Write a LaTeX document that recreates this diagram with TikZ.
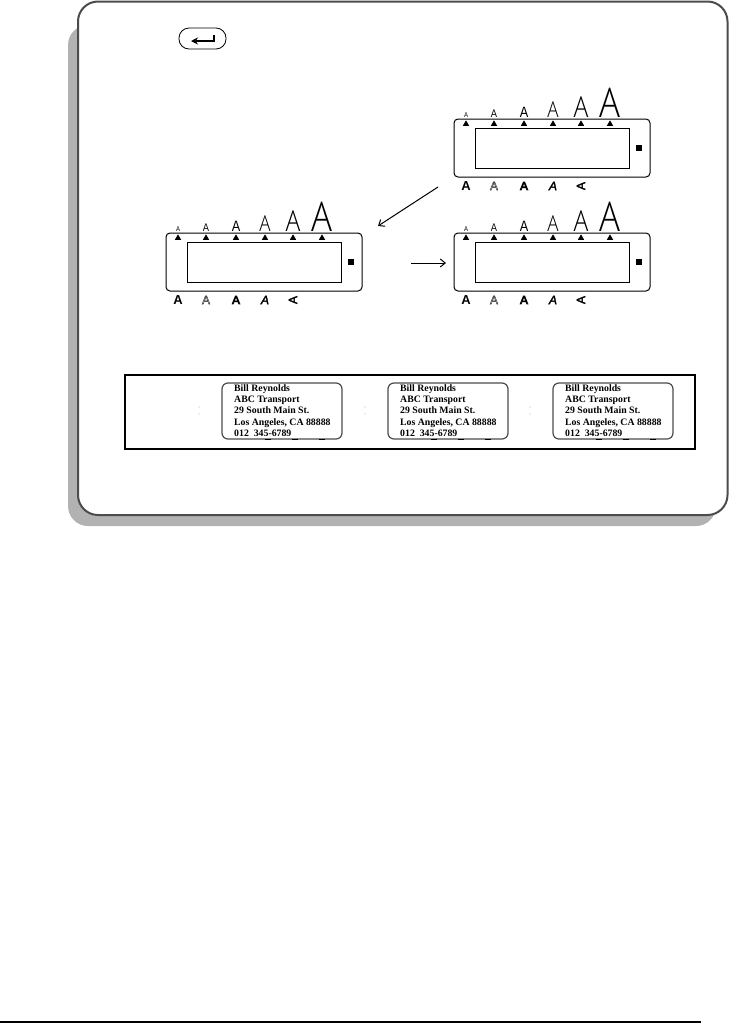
\documentclass[tikz,border=0pt]{standalone}
\usepackage{fontspec}
\setmainfont{Liberation Sans}
\newfontfamily\labelfont{Liberation Serif}
\newfontfamily\sizefont{Open Sans Light}
\usetikzlibrary{arrows.meta,shapes}
\definecolor{panelgray}{gray}{0.70}
\definecolor{edgegray}{gray}{0.30}
\newcommand{\outlineA}{\special{pdf:code q 1 Tr 0.35 w}A\special{pdf:code Q}}
\newcommand{\shadowA}{\special{pdf:code q 1 Tr 0.7 w}A\special{pdf:code Q}}
\newcommand{\heavyA}{\special{pdf:code q 2 Tr 0.3 w}A\special{pdf:code Q}}
\tikzset{
  sizeA/.style={inner sep=0pt,anchor=base,xscale=0.85,transform shape},
  styleA/.style={inner sep=0pt,font=\fontsize{12}{12}\selectfont},
  lcd/.style={draw,line width=1pt,rounded corners=4pt},
  labeltxt/.style={inner sep=0pt,anchor=base west,font=\labelfont\bfseries\fontsize{9.8}{10}\selectfont},
}
\begin{document}
\begin{tikzpicture}[x=1pt,y=-1pt,=>Stealth]
\useasboundingbox (0,0) rectangle (729,1023);
% panel
\fill[panelgray,rounded corners=20pt](68,25)rectangle(716,526);
\draw[fill=white,draw=edgegray,line width=2pt,rounded corners=20pt](78,1.5)rectangle(727.5,515);
% key
\node[draw,line width=0.8pt,rounded corners=10pt,minimum width=47pt,minimum height=21pt,inner sep=0pt](enterkey)at(202.5,38.5){};
\coordinate(keyA)at(214,35);
\coordinate(keyB)at(214,41);
\coordinate(keyC)at(191,41);
\draw[line width=1.3pt,-{Stealth[length=7pt,width=7pt]}](keyA)--(keyB)--(keyC);
% displays
\foreach \name/\dx/\dy in {top/288/0,left/0/114,right/288/114}{
\begin{scope}[shift={(\dx,\dy)}]
\node[lcd,minimum width=196pt,minimum height=58pt,inner sep=0pt](\name lcd)at(264,148){};
\node[draw,line width=1pt,minimum width=154pt,minimum height=40pt,inner sep=0pt](\name screen)at(264,148){};
\node[fill=black,minimum size=5.5pt,inner sep=0pt](\name mark)at(351,148){};
\foreach \n/\x/\s/\f in {1/178/7/\rmfamily,2/206/11/\rmfamily,3/236/15/\rmfamily,4/265/22/\sizefont,5/293/29/\sizefont,6/322/41/\sizefont}{
\node[fill=black,isosceles triangle,isosceles triangle apex angle=60,shape border rotate=90,minimum size=5.5pt,inner sep=0pt](\name tri\n)at(\x,124){};
\node[sizeA,font=\f\fontsize{\s}{\s}\selectfont](\name size\n)at(\x,117){A};
}
\node[styleA,font=\bfseries\fontsize{13}{13}\selectfont](\name bold)at(178,186){A};
\node[styleA](\name outl)at(206,186){\outlineA};
\node[styleA](\name shad)at(236,186){\shadowA};
\node[styleA,font=\itshape\fontsize{12}{12}\selectfont](\name ital)at(265,186){\heavyA};
\node[styleA,rotate=90](\name vert)at(293,186){\heavyA};
\end{scope}
}
% arrows
\coordinate(arrowA)at(438,187);
\coordinate(arrowB)at(378,226);
\coordinate(arrowC)at(411,263);
\coordinate(arrowD)at(446,263);
\draw[line width=1pt,-{Straight Barb[length=5pt,width=8pt]}](arrowA)--(arrowB);
\draw[line width=1pt,-{Straight Barb[length=5pt,width=8pt]}](arrowC)--(arrowD);
% sample strip
\node[draw,line width=2pt,minimum width=570pt,minimum height=74pt,inner sep=0pt](strip)at(410,412){};
\foreach \n/\x in {1/0,2/166,3/331}{
\begin{scope}[xshift=\x]
\node[draw=edgegray,line width=1.2pt,rounded corners=6pt,minimum width=120pt,minimum height=56pt,inner sep=0pt](label\n)at(282,411){};
\node[labeltxt](labelA\n)at(234,391){Bill Reynolds};
\node[labeltxt](labelB\n)at(234,402){ABC Transport};
\node[labeltxt](labelC\n)at(234,413.5){29 South Main St.};
\node[labeltxt](labelD\n)at(234,425){Los Angeles, CA 88888};
\node[labeltxt](labelE\n)at(234,436){012\ \ 345-6789};
\fill[gray!60](199,407)circle(0.6);
\fill[gray!60](199,414)circle(0.6);
\foreach \m in {268,295,322}{
\draw[line width=1.2pt](\m-3,439.5)--(\m+3,439.5);
}
\end{scope}
}
% foot rule
\coordinate(ruleA)at(0,1022);
\coordinate(ruleB)at(701,1022);
\draw[line width=2pt](ruleA)--(ruleB);
\end{tikzpicture}
\end{document}
